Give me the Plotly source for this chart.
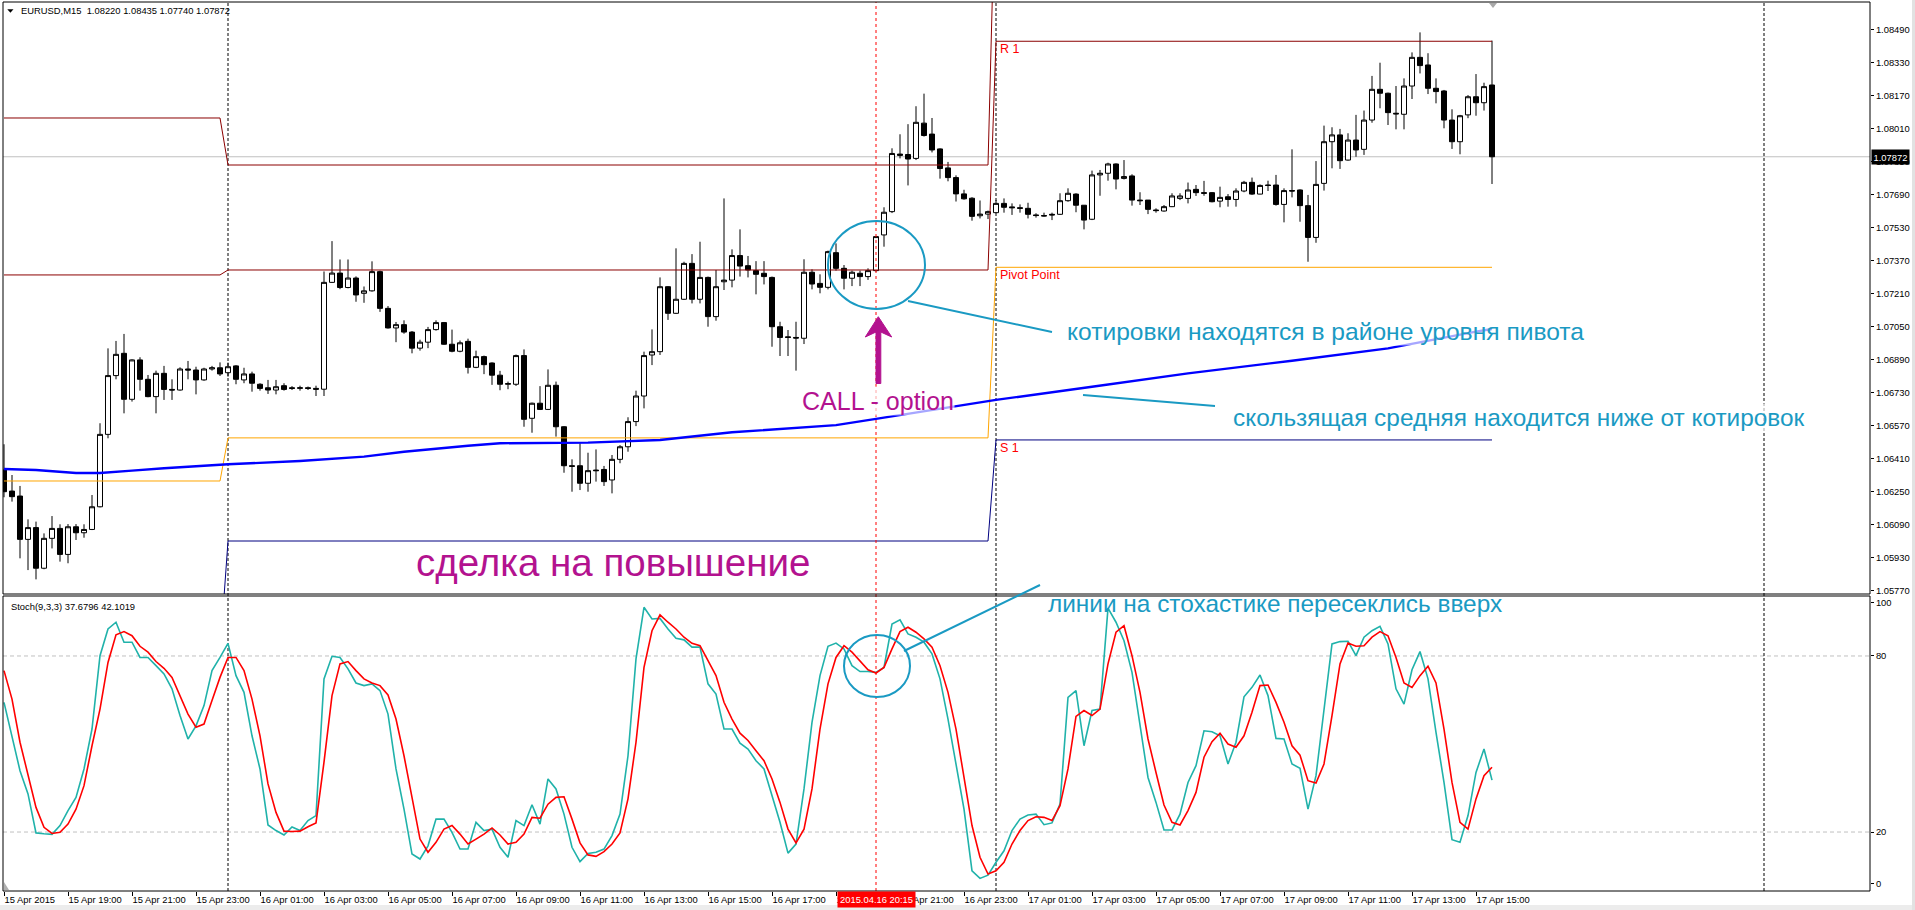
import plotly.graph_objects as go

# EURUSD M15 bars, 15 Apr 2015 17:00 .. 17 Apr 2015 15:30
bar_open = [
    1.06353, 1.06251, 1.06227, 1.06017, 1.06074, 1.05877, 1.06022, 1.06070, 1.05944, 1.06078,
    1.06049, 1.06065, 1.06175, 1.06526, 1.06811, 1.06919, 1.06696, 1.06887, 1.06793, 1.06709,
    1.06822, 1.06744, 1.06741, 1.06843, 1.06838, 1.06790, 1.06843, 1.06849, 1.06825, 1.06858,
    1.06790, 1.06819, 1.06769, 1.06752, 1.06741, 1.06762, 1.06752, 1.06749, 1.06752, 1.06749,
    1.06745, 1.07263, 1.07308, 1.07238, 1.07284, 1.07210, 1.07222, 1.07315, 1.07137, 1.07042,
    1.07058, 1.07022, 1.06944, 1.06973, 1.07034, 1.07068, 1.06963, 1.06929, 1.06977, 1.06851,
    1.06903, 1.06872, 1.06813, 1.06769, 1.06769, 1.06908, 1.06604, 1.06677, 1.06647, 1.06764,
    1.06563, 1.06374, 1.06374, 1.06289, 1.06353, 1.06356, 1.06305, 1.06405, 1.06466, 1.06588,
    1.06712, 1.06911, 1.06927, 1.07242, 1.07113, 1.07181, 1.07355, 1.07181, 1.07287, 1.07097,
    1.07266, 1.07274, 1.07393, 1.07344, 1.07320, 1.07307, 1.07287, 1.07048, 1.06999, 1.06996,
    1.06992, 1.07312, 1.07258, 1.07239, 1.07407, 1.07331, 1.07283, 1.07307, 1.07291, 1.07320,
    1.07493, 1.07606, 1.07885, 1.07883, 1.07864, 1.08035, 1.07982, 1.07910, 1.07818, 1.07771,
    1.07692, 1.07671, 1.07586, 1.07594, 1.07601, 1.07646, 1.07629, 1.07625, 1.07622, 1.07590,
    1.07587, 1.07593, 1.07593, 1.07659, 1.07691, 1.07637, 1.07569, 1.07784, 1.07792, 1.07837,
    1.07767, 1.07779, 1.07662, 1.07662, 1.07614, 1.07609, 1.07630, 1.07670, 1.07670, 1.07714,
    1.07698, 1.07698, 1.07657, 1.07678, 1.07665, 1.07706, 1.07748, 1.07691, 1.07735, 1.07735,
    1.07641, 1.07708, 1.07711, 1.07635, 1.07481, 1.07743, 1.07945, 1.07978, 1.07856, 1.07953,
    1.07908, 1.08050, 1.08199, 1.08180, 1.08083, 1.08078, 1.08215, 1.08354, 1.08317, 1.08204,
    1.08191, 1.08050, 1.07945, 1.08075, 1.08163, 1.08134, 1.08220,
]
bar_high = [
    1.06478, 1.06329, 1.06276, 1.06114, 1.06103, 1.06046, 1.06130, 1.06090, 1.06091, 1.06091,
    1.06090, 1.06232, 1.06580, 1.06943, 1.06979, 1.07013, 1.06890, 1.06900, 1.06814, 1.06835,
    1.06858, 1.06793, 1.06851, 1.06882, 1.06854, 1.06849, 1.06858, 1.06875, 1.06874, 1.06862,
    1.06849, 1.06830, 1.06774, 1.06790, 1.06790, 1.06774, 1.06760, 1.06762, 1.06758, 1.06762,
    1.07316, 1.07463, 1.07374, 1.07374, 1.07292, 1.07243, 1.07365, 1.07320, 1.07148, 1.07071,
    1.07079, 1.07027, 1.06985, 1.07047, 1.07079, 1.07071, 1.07034, 1.06981, 1.06990, 1.06932,
    1.06908, 1.06875, 1.06834, 1.06782, 1.06913, 1.06938, 1.06680, 1.06760, 1.06841, 1.06782,
    1.06566, 1.06405, 1.06483, 1.06437, 1.06453, 1.06373, 1.06426, 1.06474, 1.06609, 1.06738,
    1.06927, 1.07035, 1.07287, 1.07245, 1.07428, 1.07363, 1.07400, 1.07460, 1.07291, 1.07323,
    1.07670, 1.07423, 1.07520, 1.07391, 1.07366, 1.07366, 1.07291, 1.07072, 1.07032, 1.07072,
    1.07375, 1.07326, 1.07302, 1.07417, 1.07452, 1.07347, 1.07320, 1.07320, 1.07331, 1.07485,
    1.07627, 1.07913, 1.07981, 1.08030, 1.08117, 1.08178, 1.08060, 1.07913, 1.07847, 1.07782,
    1.07712, 1.07676, 1.07660, 1.07611, 1.07662, 1.07670, 1.07646, 1.07641, 1.07649, 1.07598,
    1.07601, 1.07601, 1.07695, 1.07719, 1.07695, 1.07638, 1.07805, 1.07808, 1.07843, 1.07840,
    1.07856, 1.07787, 1.07700, 1.07662, 1.07622, 1.07638, 1.07695, 1.07695, 1.07747, 1.07735,
    1.07755, 1.07701, 1.07727, 1.07691, 1.07719, 1.07755, 1.07771, 1.07738, 1.07756, 1.07784,
    1.07719, 1.07908, 1.07714, 1.07687, 1.07851, 1.08023, 1.08015, 1.08007, 1.07986, 1.08075,
    1.08096, 1.08264, 1.08328, 1.08183, 1.08215, 1.08252, 1.08378, 1.08475, 1.08374, 1.08252,
    1.08196, 1.08102, 1.08075, 1.08171, 1.08273, 1.08231, 1.08435,
]
bar_low = [
    1.06221, 1.06200, 1.05925, 1.05868, 1.05823, 1.05872, 1.05973, 1.05909, 1.05901, 1.06014,
    1.06025, 1.06062, 1.06172, 1.06507, 1.06793, 1.06628, 1.06685, 1.06738, 1.06706, 1.06628,
    1.06693, 1.06693, 1.06738, 1.06793, 1.06720, 1.06786, 1.06835, 1.06809, 1.06806, 1.06769,
    1.06774, 1.06733, 1.06738, 1.06722, 1.06720, 1.06738, 1.06741, 1.06738, 1.06741, 1.06712,
    1.06712, 1.07260, 1.07230, 1.07234, 1.07169, 1.07164, 1.07218, 1.07120, 1.07039, 1.06973,
    1.07014, 1.06919, 1.06932, 1.06944, 1.07029, 1.06960, 1.06924, 1.06924, 1.06821, 1.06847,
    1.06818, 1.06766, 1.06740, 1.06745, 1.06761, 1.06563, 1.06534, 1.06644, 1.06644, 1.06515,
    1.06340, 1.06248, 1.06256, 1.06248, 1.06297, 1.06276, 1.06240, 1.06386, 1.06442, 1.06566,
    1.06652, 1.06862, 1.06911, 1.07081, 1.07110, 1.07178, 1.07161, 1.07161, 1.07048, 1.07077,
    1.07226, 1.07239, 1.07291, 1.07287, 1.07205, 1.07253, 1.06951, 1.06906, 1.06906, 1.06835,
    1.06964, 1.07229, 1.07210, 1.07229, 1.07320, 1.07229, 1.07245, 1.07245, 1.07275, 1.07315,
    1.07436, 1.07599, 1.07864, 1.07733, 1.07856, 1.07970, 1.07893, 1.07766, 1.07753, 1.07655,
    1.07664, 1.07562, 1.07573, 1.07570, 1.07598, 1.07601, 1.07590, 1.07601, 1.07573, 1.07577,
    1.07582, 1.07565, 1.07590, 1.07654, 1.07603, 1.07520, 1.07565, 1.07683, 1.07756, 1.07714,
    1.07762, 1.07635, 1.07638, 1.07594, 1.07601, 1.07606, 1.07628, 1.07662, 1.07646, 1.07682,
    1.07683, 1.07651, 1.07627, 1.07630, 1.07630, 1.07700, 1.07687, 1.07690, 1.07706, 1.07635,
    1.07554, 1.07675, 1.07557, 1.07363, 1.07455, 1.07708, 1.07816, 1.07813, 1.07853, 1.07872,
    1.07881, 1.08037, 1.08107, 1.08026, 1.08005, 1.08005, 1.08152, 1.08276, 1.08176, 1.08131,
    1.08010, 1.07910, 1.07884, 1.08059, 1.08071, 1.08096, 1.07740,
]
bar_close = [
    1.06248, 1.06224, 1.06017, 1.06074, 1.05877, 1.06022, 1.06070, 1.05944, 1.06078, 1.06049,
    1.06065, 1.06175, 1.06526, 1.06811, 1.06914, 1.06696, 1.06887, 1.06793, 1.06709, 1.06822,
    1.06744, 1.06741, 1.06843, 1.06838, 1.06790, 1.06843, 1.06849, 1.06819, 1.06854, 1.06793,
    1.06819, 1.06774, 1.06749, 1.06741, 1.06757, 1.06744, 1.06749, 1.06752, 1.06749, 1.06745,
    1.07263, 1.07308, 1.07238, 1.07284, 1.07202, 1.07222, 1.07315, 1.07137, 1.07042, 1.07058,
    1.07022, 1.06944, 1.06973, 1.07034, 1.07068, 1.06963, 1.06929, 1.06970, 1.06851, 1.06903,
    1.06864, 1.06813, 1.06769, 1.06772, 1.06908, 1.06599, 1.06677, 1.06647, 1.06764, 1.06563,
    1.06374, 1.06371, 1.06289, 1.06350, 1.06350, 1.06297, 1.06405, 1.06466, 1.06588, 1.06712,
    1.06908, 1.06927, 1.07242, 1.07113, 1.07181, 1.07355, 1.07181, 1.07287, 1.07097, 1.07242,
    1.07274, 1.07393, 1.07342, 1.07323, 1.07302, 1.07291, 1.07048, 1.06996, 1.06996, 1.06993,
    1.07312, 1.07255, 1.07239, 1.07412, 1.07331, 1.07283, 1.07312, 1.07291, 1.07320, 1.07485,
    1.07603, 1.07888, 1.07879, 1.07861, 1.08039, 1.07975, 1.07905, 1.07815, 1.07771, 1.07692,
    1.07668, 1.07583, 1.07594, 1.07606, 1.07646, 1.07627, 1.07625, 1.07622, 1.07593, 1.07587,
    1.07585, 1.07590, 1.07659, 1.07695, 1.07637, 1.07565, 1.07784, 1.07792, 1.07837, 1.07764,
    1.07776, 1.07662, 1.07659, 1.07617, 1.07611, 1.07630, 1.07682, 1.07682, 1.07711, 1.07698,
    1.07695, 1.07654, 1.07675, 1.07665, 1.07706, 1.07748, 1.07691, 1.07733, 1.07733, 1.07641,
    1.07708, 1.07706, 1.07635, 1.07481, 1.07738, 1.07945, 1.07978, 1.07853, 1.07953, 1.07905,
    1.08050, 1.08199, 1.08180, 1.08086, 1.08080, 1.08215, 1.08354, 1.08314, 1.08204, 1.08188,
    1.08050, 1.07945, 1.08071, 1.08163, 1.08134, 1.08212, 1.07872,
]

# Stochastic (9,3,3): main line and signal line
stoch_main = [
    64.2, 52.8, 40.9, 33.0, 19.7, 19.4, 19.2, 22.2, 27.3, 31.8,
    41.5, 55.1, 80.1, 89.2, 91.5, 84.7, 84.7, 79.5, 79.5, 76.7,
    73.9, 68.8, 59.7, 51.7, 56.2, 63.1, 75.0, 79.5, 84.3, 73.3,
    67.6, 52.8, 41.5, 22.4, 20.5, 19.0, 21.7, 20.5, 23.9, 25.6,
    72.2, 79.9, 79.5, 75.6, 70.8, 69.9, 70.5, 68.2, 60.2, 41.5,
    27.8, 12.5, 10.8, 15.3, 24.4, 24.4, 19.9, 14.2, 14.2, 23.3,
    20.5, 21.0, 14.8, 11.4, 23.9, 22.2, 29.3, 22.7, 38.1, 34.7,
    26.1, 14.8, 9.9, 12.7, 13.1, 14.2, 18.8, 26.1, 46.0, 79.0,
    96.6, 92.6, 92.8, 89.2, 86.0, 85.5, 83.0, 83.0, 70.5, 67.0,
    55.1, 55.1, 50.3, 48.3, 44.3, 41.5, 32.4, 23.3, 12.8, 15.9,
    34.7, 57.4, 73.3, 83.3, 84.4, 82.4, 76.7, 74.7, 74.7, 74.4,
    76.1, 90.9, 92.3, 87.5, 86.4, 84.7, 80.7, 72.2, 58.5, 43.2,
    27.8, 6.8, 4.2, 5.3, 9.7, 13.6, 20.5, 24.4, 25.8, 26.1,
    22.5, 23.1, 29.5, 65.9, 68.2, 49.4, 61.4, 61.9, 96.3, 91.5,
    85.2, 74.4, 56.8, 38.6, 30.1, 20.7, 20.7, 26.1, 36.9, 42.6,
    54.5, 54.2, 52.8, 43.2, 50.6, 66.1, 69.3, 73.5, 66.5, 51.9,
    51.7, 43.2, 41.7, 27.8, 39.2, 61.9, 84.1, 84.9, 85.0, 80.1,
    86.4, 88.6, 90.1, 84.1, 68.8, 63.6, 75.3, 81.5, 72.2, 54.0,
    36.9, 17.4, 16.5, 25.6, 40.3, 48.3, 37.68,
]
stoch_signal = [
    75.0, 65.3, 50.6, 39.2, 28.4, 21.6, 19.5, 19.9, 22.7, 27.8,
    35.8, 49.4, 61.9, 77.8, 87.2, 88.3, 86.9, 83.3, 81.3, 78.1,
    75.8, 72.7, 66.5, 60.2, 55.7, 56.8, 64.8, 72.7, 79.5, 79.5,
    75.0, 65.3, 52.8, 36.4, 26.7, 20.3, 20.2, 20.3, 21.8, 23.1,
    43.8, 66.5, 77.3, 78.1, 75.0, 72.2, 70.8, 69.9, 66.7, 58.5,
    46.0, 31.3, 17.6, 13.1, 16.5, 21.0, 22.2, 19.3, 15.9, 17.6,
    19.3, 21.4, 19.0, 15.9, 16.5, 19.3, 25.0, 24.7, 29.5, 31.8,
    32.0, 24.4, 16.3, 12.2, 11.7, 13.3, 15.9, 19.7, 31.3, 50.6,
    76.1, 88.6, 94.0, 91.5, 89.2, 86.4, 84.3, 83.5, 78.4, 73.3,
    64.2, 58.5, 53.7, 51.2, 47.7, 44.3, 38.1, 30.1, 21.0, 16.3,
    21.0, 34.7, 55.1, 70.5, 79.5, 83.5, 81.3, 78.4, 75.3, 74.2,
    76.1, 82.4, 88.3, 89.8, 88.1, 85.8, 83.0, 76.7, 67.6, 55.1,
    39.2, 22.2, 11.4, 5.7, 6.8, 9.7, 15.9, 20.5, 23.9, 25.2,
    25.0, 23.9, 29.0, 41.5, 59.4, 61.4, 59.7, 61.9, 77.3, 88.1,
    90.3, 80.1, 67.6, 51.7, 40.3, 29.2, 23.3, 22.4, 27.3, 33.5,
    45.5, 50.8, 53.7, 50.0, 48.9, 52.8, 60.8, 69.9, 70.1, 64.2,
    57.4, 49.4, 46.2, 37.5, 36.7, 43.2, 59.7, 77.3, 84.4, 83.3,
    83.5, 86.4, 88.3, 86.9, 79.5, 70.8, 69.3, 73.3, 76.5, 70.8,
    55.1, 36.9, 23.3, 21.0, 31.3, 39.2, 42.10,
]

# moving average, read at these bars
ma_bar = [0, 4, 9, 12, 16, 20, 28, 37, 45, 50, 58, 62, 73, 82, 91, 104, 109,
          120, 124, 136, 148, 161, 173, 184, 186]
ma_value = [1.06358, 1.06353, 1.06339, 1.06339, 1.06350, 1.06362, 1.06381, 1.06397,
            1.06418, 1.06442, 1.06471, 1.06483, 1.06486, 1.06499, 1.06536, 1.06571,
            1.06601, 1.06668, 1.06693, 1.06757, 1.06822, 1.06883, 1.06943, 1.07024, 1.07037]

# daily pivot levels for 15, 16 and 17 Apr (first bar of each day)
day_start = [0, 28, 124]
pivot_r2 = [1.08060, 1.07832, 1.09330]
pivot_r1 = [1.07299, 1.07323, 1.08432]
pivot_pp = [1.06300, 1.06509, 1.07336]
pivot_s1 = [1.05466, 1.06009, 1.06499]

time_tick_bar = [0, 8, 16, 24, 32, 40, 48, 56, 64, 72, 80, 88, 96, 104, 112, 120,
                 128, 136, 144, 152, 160, 168, 176, 184]
time_tick_text = ["15 Apr 2015", "15 Apr 19:00", "15 Apr 21:00", "15 Apr 23:00",
                  "16 Apr 01:00", "16 Apr 03:00", "16 Apr 05:00", "16 Apr 07:00",
                  "16 Apr 09:00", "16 Apr 11:00", "16 Apr 13:00", "16 Apr 15:00",
                  "16 Apr 17:00", "16 Apr 19:00", "16 Apr 21:00", "16 Apr 23:00",
                  "17 Apr 01:00", "17 Apr 03:00", "17 Apr 05:00", "17 Apr 07:00",
                  "17 Apr 09:00", "17 Apr 11:00", "17 Apr 13:00", "17 Apr 15:00"]
price_ticks = [1.08490, 1.08330, 1.08170, 1.08010, 1.07850, 1.07690, 1.07530, 1.07370,
               1.07210, 1.07050, 1.06890, 1.06730, 1.06570, 1.06410, 1.06250, 1.06090,
               1.05930, 1.05770]
stoch_tick_text = ["100", "80", "20", "0"]
last_price = 1.07872
separator_bar = [28, 124, 220]
marked_bar = 109
marked_time = "2015.04.16 20:15"

# ---- geometry (pixels of the 1915x910 page) ----
W, H = 1915, 910
ML, MR, MT, MB = 3, 45, 2, 19
PW, PH = W - ML - MR, H - MT - MB


def fx(px):
    return (px - ML) / PW


def fy(py):
    return (H - MB - py) / PH


bars = list(range(len(bar_open)))


def per_bar(levels):
    out = []
    for i in bars:
        d = max(k for k, s in enumerate(day_start) if s <= i)
        out.append(levels[d])
    return out


SMALL = dict(family="Liberation Sans, Arial, sans-serif", size=9.4, color="black")
TEAL = "#1a9ac3"
MAGENTA = "#b3128f"
HALO = "rgba(255,255,255,0.65)"

fig = go.Figure()

for levels, color in [(pivot_r2, "#8b0000"), (pivot_r1, "#8b0000"),
                      (pivot_pp, "#ffa500"), (pivot_s1, "#000080")]:
    fig.add_trace(go.Scatter(x=bars, y=per_bar(levels), mode="lines",
                             line=dict(color=color, width=1), hoverinfo="skip"))

fig.add_trace(go.Scatter(x=ma_bar, y=ma_value, mode="lines",
                         line=dict(color="#0000ff", width=2.4), hoverinfo="skip"))

fig.add_trace(go.Candlestick(
    x=bars, open=bar_open, high=bar_high, low=bar_low, close=bar_close,
    increasing=dict(line=dict(color="black", width=1), fillcolor="white"),
    decreasing=dict(line=dict(color="black", width=1), fillcolor="black"),
    whiskerwidth=0, hoverinfo="skip"))

fig.add_trace(go.Scatter(x=bars, y=stoch_main, xaxis="x2", yaxis="y2", mode="lines",
                         line=dict(color="#20b2aa", width=1.6), hoverinfo="skip"))
fig.add_trace(go.Scatter(x=bars, y=stoch_signal, xaxis="x2", yaxis="y2", mode="lines",
                         line=dict(color="#ff0000", width=1.6), hoverinfo="skip"))

shapes = []
# bid line and stochastic levels
shapes.append(dict(type="line", xref="paper", x0=0, x1=1, yref="y", y0=last_price,
                   y1=last_price, line=dict(color="#c0c0c0", width=1), layer="below"))
for lvl in (80, 20):
    shapes.append(dict(type="line", xref="paper", x0=0, x1=1, yref="y2", y0=lvl, y1=lvl,
                       line=dict(color="#c0c0c0", width=1, dash="4px,3px"), layer="below"))
for b in separator_bar:
    shapes.append(dict(type="line", xref="x", x0=b, x1=b, yref="paper", y0=0, y1=1,
                       line=dict(color="black", width=1, dash="3px,2px"), layer="below"))
shapes.append(dict(type="line", xref="x", x0=marked_bar, x1=marked_bar, yref="paper",
                   y0=0, y1=1, line=dict(color="red", width=1, dash="3px,3px")))
# panel borders
for top, bottom in ((2, 594), (596, 891)):
    shapes.append(dict(type="rect", xref="paper", yref="paper", x0=fx(3), x1=fx(1870),
                       y0=fy(bottom), y1=fy(top), line=dict(color="black", width=1)))
# window frame
shapes.append(dict(type="rect", xref="paper", yref="paper", x0=fx(0), x1=fx(1915),
                   y0=fy(910), y1=fy(905), fillcolor="#ececec", line=dict(width=0)))
shapes.append(dict(type="rect", xref="paper", yref="paper", x0=fx(1912), x1=fx(1915),
                   y0=fy(910), y1=fy(0), fillcolor="#e2e2e2", line=dict(width=0)))
# small markers
shapes.append(dict(type="path", xref="paper", yref="paper", fillcolor="black",
                   line=dict(width=0),
                   path=f"M{fx(7.3)},{fy(9.3)} L{fx(13.5)},{fy(9.3)} L{fx(10.4)},{fy(12.8)} Z"))
shapes.append(dict(type="path", xref="paper", yref="paper", fillcolor="#a8a8a8",
                   line=dict(width=0),
                   path=f"M{fx(1489)},{fy(3)} L{fx(1497)},{fy(3)} L{fx(1493)},{fy(8)} Z"))
shapes.append(dict(type="path", xref="paper", yref="paper", fillcolor="#b0b0b0",
                   line=dict(width=0),
                   path=f"M{fx(4)},{fy(882)} L{fx(4)},{fy(890)} L{fx(9)},{fy(890)} Z"))
# hand drawn marks
shapes.append(dict(type="circle", xref="paper", yref="paper", x0=fx(828), x1=fx(925),
                   y0=fy(309), y1=fy(221), line=dict(color=TEAL, width=2)))
shapes.append(dict(type="circle", xref="paper", yref="paper", x0=fx(844), x1=fx(910),
                   y0=fy(697), y1=fy(635), line=dict(color=TEAL, width=2)))
for (x0, y0, x1, y1) in ((908, 301, 1052, 332), (1083, 395, 1215, 406),
                         (904, 651, 1040, 585)):
    shapes.append(dict(type="line", xref="paper", yref="paper", x0=fx(x0), y0=fy(y0),
                       x1=fx(x1), y1=fy(y1), line=dict(color=TEAL, width=2)))
arrow = [(878.3, 316.7), (891.7, 337), (880.8, 332), (880.8, 383.5), (876, 383.5),
         (876, 332), (865.3, 337)]
path = "M" + " L".join(f"{fx(a)},{fy(b)}" for a, b in arrow) + " Z"
shapes.append(dict(type="path", xref="paper", yref="paper", path=path,
                   fillcolor=MAGENTA, line=dict(color=MAGENTA, width=1)))

BIG = "Liberation Sans, Arial, sans-serif"
annotations = [
    dict(text="EURUSD,M15  1.08220 1.08435 1.07740 1.07872", x=fx(19), y=fy(10.5),
         font=SMALL),
    dict(text="Stoch(9,3,3) 37.6796 42.1019", x=fx(8.5), y=fy(606), font=SMALL),
    dict(text="R 1", x=fx(998), y=fy(49), font=dict(family=BIG, size=12.5, color="red")),
    dict(text="Pivot Point", x=fx(998), y=fy(275),
         font=dict(family=BIG, size=12.5, color="red")),
    dict(text="S 1", x=fx(998), y=fy(448), font=dict(family=BIG, size=12.5, color="red")),
    dict(text="котировки находятся в районе уровня пивота", x=fx(1066), y=fy(331),
         font=dict(family=BIG, size=24.6, color=TEAL), bgcolor=HALO, borderpad=0),
    dict(text="скользящая средняя находится ниже от котировок", x=fx(1232), y=fy(417),
         font=dict(family=BIG, size=24.4, color=TEAL), bgcolor=HALO, borderpad=0),
    dict(text="линии на стохастике пересеклись вверх", x=fx(1046), y=fy(603),
         font=dict(family=BIG, size=24.4, color=TEAL)),
    dict(text="CALL - option", x=fx(801), y=fy(401),
         font=dict(family=BIG, size=25, color=MAGENTA), bgcolor=HALO, borderpad=0),
    dict(text="сделка на повышение", x=fx(414), y=fy(562),
         font=dict(family=BIG, size=38.5, color=MAGENTA)),
    dict(text=f"{last_price:.5f}", x=fx(1871), y=fy(157), bgcolor="black",
         font=dict(family=SMALL["family"], size=9.4, color="white"), borderpad=1.5),
    dict(text=marked_time, x=fx(876), y=fy(900), xanchor="center", bgcolor="red",
         font=dict(family=SMALL["family"], size=9.4, color="white"), borderpad=2),
]
for a in annotations:
    a.setdefault("xref", "paper")
    a.setdefault("yref", "paper")
    a.setdefault("xanchor", "left")
    a.setdefault("yanchor", "middle")
    a.setdefault("showarrow", False)

x_range = [(ML - 4) / 8, (ML + PW - 4) / 8]
price_top = 1.08490 + (29.3 - 2) / 20625
price_bottom = 1.08490 - (594 - 29.3) / 20625

fig.update_layout(
    width=W, height=H, margin=dict(l=ML, r=MR, t=MT, b=MB),
    paper_bgcolor="white", plot_bgcolor="white", showlegend=False,
    hovermode=False, boxgap=0.14, boxgroupgap=0.27,
    shapes=shapes, annotations=annotations,
    xaxis=dict(domain=[0, 1], anchor="y", range=x_range, showticklabels=False,
               showgrid=False, zeroline=False, rangeslider=dict(visible=False)),
    xaxis2=dict(domain=[0, 1], anchor="y2", matches="x", range=x_range,
                tickvals=time_tick_bar, ticktext=time_tick_text, ticks="outside",
                ticklen=4, tickcolor="black", ticklabelposition="outside right",
                tickfont=SMALL, showgrid=False, zeroline=False),
    yaxis=dict(domain=[fy(594), 1], anchor="x", side="right",
               range=[price_bottom, price_top], tickvals=price_ticks,
               ticktext=[f"{v:.5f}" for v in price_ticks], ticks="outside", ticklen=3,
               tickcolor="black", tickfont=SMALL, showgrid=False, zeroline=False),
    yaxis2=dict(domain=[0, fy(596)], anchor="x2", side="right", range=[-0.1, 100.44],
                tickvals=[98.1, 80, 20, 2.3], ticktext=stoch_tick_text, ticks="outside",
                ticklen=3, tickcolor="black", tickfont=SMALL, showgrid=False,
                zeroline=False),
)

# the page body has a default 8px margin; drop it so the figure fills the window
fig.write_html("out.html", config={"displayModeBar": False},
               post_script="document.body.style.margin='0';"
                           "document.body.style.overflow='hidden';")
